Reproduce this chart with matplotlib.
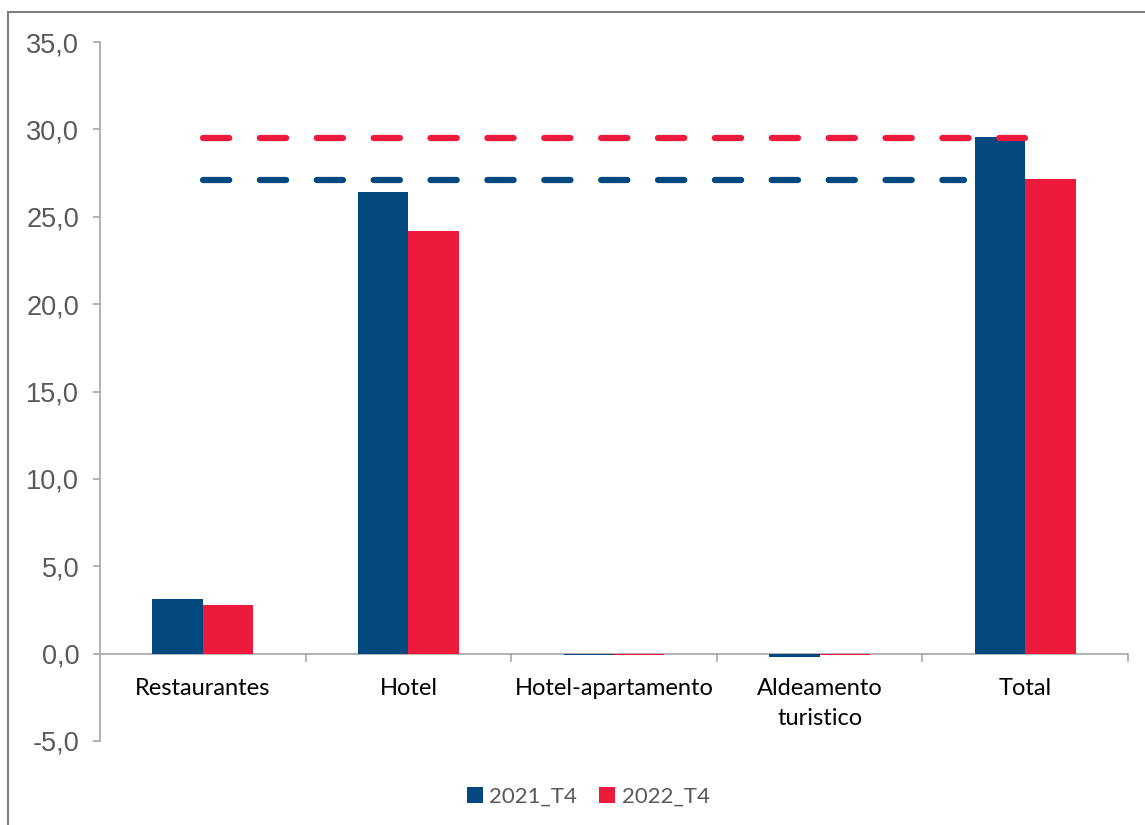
import matplotlib.pyplot as plt
import numpy as np
from matplotlib.patches import Rectangle
from matplotlib.ticker import FuncFormatter

categories = ["Restaurantes", "Hotel", "Hotel-apartamento", "Aldeamento\nturistico", "Total"]
series_names = ["2021_T4", "2022_T4"]
values_2021 = [3.15, 26.4, -0.08, -0.2, 29.55]
values_2022 = [2.8, 24.2, -0.08, -0.08, 27.15]
# horizontal reference lines drawn across the categories
line_red = [29.5, 29.5, 29.5, 29.5, 29.5]
line_blue = [27.1, 27.1, 27.1, 27.1, 27.1]

blue = "#03497F"
red = "#EE1A3B"
grey = "#A6A6A6"
text_grey = "#595959"

fig = plt.figure(figsize=(11.45, 8.25), dpi=100)
ax = fig.add_axes([100 / 1145, 1 - 741 / 825, 1028 / 1145, (741 - 42) / 825])

# outer chart frame
fig.patches.append(Rectangle((8 / 1145, -0.1), 1.2, 1 - 12 / 825 + 0.1,
                             transform=fig.transFigure, fill=False,
                             edgecolor="#7F7F7F", linewidth=1.5))

x = np.arange(len(categories))
w = 0.245
ax.bar(x - w / 2, values_2021, width=w, color=blue, label=series_names[0], zorder=2)
ax.bar(x + w / 2, values_2022, width=w, color=red, label=series_names[1], zorder=2)

ax.plot(x, line_red, color=red, linewidth=4.5, dashes=(4.2, 4.9),
        dash_capstyle="round", zorder=3)
ax.plot(x[:-1].tolist() + [3.7], line_blue, color=blue, linewidth=4.5,
        dashes=(4.2, 4.9), dash_capstyle="round", zorder=3)

ax.set_xlim(-0.5, len(categories) - 0.5)
ax.set_ylim(-5, 35)
ax.set_yticks(np.arange(-5, 35.1, 5))
ax.yaxis.set_major_formatter(FuncFormatter(lambda v, p: f"{v:.1f}".replace(".", ",")))
ax.tick_params(axis="y", colors=grey, labelcolor=text_grey, labelsize=19.5,
               length=5, width=1.2, pad=10)
for lab in ax.get_yticklabels():
    lab.set_fontfamily("Liberation Sans")

for s in ["top", "right", "bottom"]:
    ax.spines[s].set_visible(False)
ax.spines["left"].set_color(grey)
ax.spines["left"].set_linewidth(1.2)

# category axis at zero
ax.axhline(0, color=grey, linewidth=1.2, zorder=1)
ax.set_xticks([])
for b in np.arange(0.5, len(categories), 1.0):
    ax.plot([b, b], [0, -0.45], color=grey, linewidth=1.2, clip_on=False)
for i, c in enumerate(categories):
    ax.text(i, -1.4, c, ha="center", va="top", fontsize=17, color="#000000",
            family="Lato", linespacing=1.55)

leg = ax.legend(loc="upper center", bbox_to_anchor=(0.475, -0.037),
                ncol=2, frameon=False, handlelength=0.7,
                handleheight=0.7, handletextpad=0.3, columnspacing=1.0,
                prop={"family": "Lato", "size": 16})
for t in leg.get_texts():
    t.set_color(text_grey)

fig.savefig("out.png", dpi=100)
